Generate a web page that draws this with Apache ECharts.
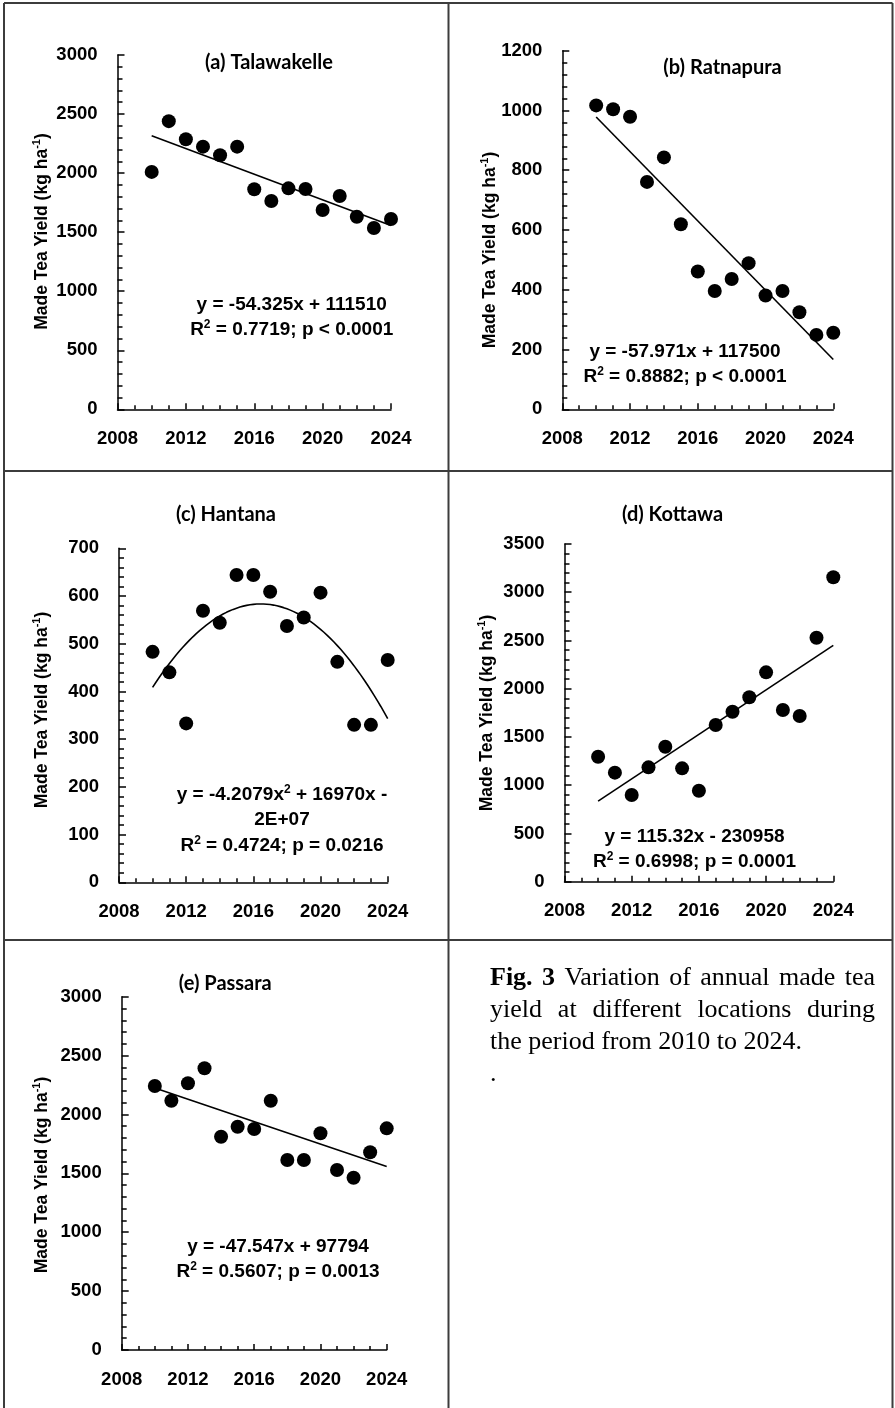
<!DOCTYPE html>
<html>
<head>
<meta charset="utf-8">
<script src="https://cdn.jsdelivr.net/npm/echarts@6/dist/echarts.min.js"></script>
<style>
html,body{margin:0;padding:0;background:#fff;}
#chart{width:895px;height:1408px;}
</style>
</head>
<body>
<div id="chart"></div>
<script>
// ---------------- DATA ----------------
const years = [2010, 2011, 2012, 2013, 2014, 2015, 2016, 2017, 2018, 2019, 2020, 2021, 2022, 2023, 2024];
const talawakelle = [2010, 2440, 2286, 2224, 2151, 2224, 1863, 1764, 1871, 1866, 1688, 1806, 1631, 1535, 1611];
const ratnapura = [1017, 1004, 979, 761, 843, 619, 461, 396, 436, 489, 381, 396, 325, 249, 256];
const hantana = [483, 440, 333, 569, 544, 644, 644, 609, 537, 555, 607, 462, 330, 330, 466];
const kottawa = [1295, 1130, 898, 1185, 1399, 1175, 943, 1624, 1762, 1911, 2170, 1779, 1717, 2529, 3155];
const passara = [2242, 2117, 2265, 2392, 1811, 1896, 1877, 2117, 1613, 1613, 1840, 1528, 1463, 1679, 1882];

const panelTitles = ['(a) Talawakelle', '(b) Ratnapura', '(c) Hantana', '(d) Kottawa', '(e) Passara'];
const xMin = 2008, xMax = 2024, xStep = 4;
const yMax = [3000, 1200, 700, 3500, 3000];
const yStep = [500, 200, 100, 500, 500];

// trend equations as printed (linear: slope, intercept; quadratic: a, b)
const trendLinA = [-54.325, 111510];
const trendLinB = [-57.971, 117500];
const trendQuadC = [-4.2079, 16970];
const trendLinD = [115.32, -230958];
const trendLinE = [-47.547, 97794];

const eqLines = [
  ['y = -54.325x + 111510', 'R{sup|2} = 0.7719; p < 0.0001'],
  ['y = -57.971x + 117500', 'R{sup|2} = 0.8882; p < 0.0001'],
  ['y = -4.2079x{sup|2} + 16970x -', '2E+07', 'R{sup|2} = 0.4724; p = 0.0216'],
  ['y = 115.32x - 230958', 'R{sup|2} = 0.6998; p = 0.0001'],
  ['y = -47.547x + 97794', 'R{sup|2} = 0.5607; p = 0.0013']
];
const yTitle = 'Made Tea Yield (kg ha{sup|-1})';

// ---------------- LAYOUT ----------------
const grids = [
  {left: 117.5, top: 55, width: 273.5, height: 354.3},
  {left: 562.3, top: 50.7, width: 271, height: 358.6},
  {left: 119, top: 548.3, width: 268.7, height: 334},
  {left: 564.5, top: 544, width: 268.8, height: 337.7},
  {left: 121.7, top: 996.7, width: 265, height: 353.3}
];
const titlePos = [[269, 63], [722.5, 68], [226, 515], [672.5, 515], [225.3, 984]];
const eqPos = [
  [291.7, [305, 330]],
  [685, [351.7, 376.7]],
  [282, [795, 820, 846]],
  [694.5, [836.7, 861.7]],
  [278, [1246.7, 1271.7]]
];
const yTitlePos = [[42, 231.5], [490, 250], [42, 710], [487, 713], [42, 1175]];

const seriesData = [talawakelle, ratnapura, hantana, kottawa, passara];

function linTrend(c) {
  return [[2010, c[0] * 2010 + c[1]], [2024, c[0] * 2024 + c[1]]];
}
function quadTrend(c, ys) {
  const n = years.length;
  let mx = 0, mx2 = 0, my = 0;
  for (let i = 0; i < n; i++) { mx += years[i]; mx2 += years[i] * years[i]; my += ys[i]; }
  mx /= n; mx2 /= n; my /= n;
  const k = my - c[0] * mx2 - c[1] * mx;
  const pts = [];
  for (let x = 2010; x <= 2024.0001; x += 0.2) pts.push([x, c[0] * x * x + c[1] * x + k]);
  return pts;
}
const trends = [linTrend(trendLinA), linTrend(trendLinB), quadTrend(trendQuadC, hantana), linTrend(trendLinD), linTrend(trendLinE)];

const SANS = '"Liberation Sans", Arial, sans-serif';
const TITLEF = 'Lato, "Open Sans", sans-serif';
const SERIF = '"Liberation Serif", "Times New Roman", serif';

const gridOpts = [], xAxes = [], yAxes = [], series = [], graphics = [];

for (let i = 0; i < 5; i++) {
  gridOpts.push(Object.assign({containLabel: false}, grids[i]));
  const axisLine = {show: true, onZero: false, lineStyle: {color: '#000', width: 1.5}};
  const lab = {color: '#000', fontWeight: 'bold', fontSize: 18.5, fontFamily: SANS, formatter: v => String(v)};
  xAxes.push({
    gridIndex: i, type: 'value', min: xMin, max: xMax, interval: xStep,
    axisLine: axisLine,
    axisTick: {show: true, inside: true, length: 6, lineStyle: {color: '#000', width: 1.5}},
    minorTick: {show: true, splitNumber: 4, length: 4, lineStyle: {color: '#000', width: 1.5}},
    splitLine: {show: false}, minorSplitLine: {show: false},
    axisLabel: Object.assign({margin: 20}, lab)
  });
  yAxes.push({
    gridIndex: i, type: 'value', min: 0, max: yMax[i], interval: yStep[i],
    axisLine: axisLine,
    axisTick: {show: true, inside: true, length: 7, lineStyle: {color: '#000', width: 1.5}},
    minorTick: {show: true, splitNumber: 5, length: 5, lineStyle: {color: '#000', width: 1.5}},
    splitLine: {show: false}, minorSplitLine: {show: false},
    axisLabel: Object.assign({margin: 20}, lab)
  });
  series.push({
    type: 'line', xAxisIndex: i, yAxisIndex: i, data: trends[i], showSymbol: false, symbol: 'none',
    lineStyle: {color: '#000', width: 1.6}, z: 2, silent: true
  });
  series.push({
    type: 'scatter', xAxisIndex: i, yAxisIndex: i,
    data: years.map((y, j) => [y, seriesData[i][j]]),
    symbol: 'circle', symbolSize: 14, itemStyle: {color: '#000', opacity: 1}, z: 3
  });

  // panel title
  graphics.push({
    type: 'text', x: titlePos[i][0], y: titlePos[i][1],
    style: {text: panelTitles[i], font: 'bold 20px ' + TITLEF, fill: '#000', align: 'center', verticalAlign: 'middle'}
  });
  // equation lines
  eqLines[i].forEach((t, k) => {
    graphics.push({
      type: 'text', x: eqPos[i][0], y: eqPos[i][1][k],
      style: {
        text: t, font: 'bold 19px ' + SANS, fill: '#000', align: 'center', verticalAlign: 'middle',
        lineHeight: 23,
        rich: {sup: {fontSize: 12, fontWeight: 'bold', fontFamily: SANS, verticalAlign: 'top', lineHeight: 12}}
      }
    });
  });
  // y-axis title
  graphics.push({
    type: 'text', x: yTitlePos[i][0], y: yTitlePos[i][1], rotation: Math.PI / 2,
    style: {
      text: yTitle, font: 'bold 17.5px ' + SANS, fill: '#000', align: 'center', verticalAlign: 'middle',
      lineHeight: 22,
      rich: {sup: {fontSize: 11, fontWeight: 'bold', fontFamily: SANS, verticalAlign: 'top', lineHeight: 11}}
    }
  });
}

// table borders
const BC = '#3c3c3c';
const borderLines = [
  [4, 3, 892.5, 3], [4, 3, 4, 1408], [892.5, 3, 892.5, 1408], [448.5, 3, 448.5, 1408],
  [4, 471, 892.5, 471], [4, 940, 892.5, 940]
];
borderLines.forEach(l => graphics.push({
  type: 'line', shape: {x1: l[0], y1: l[1], x2: l[2], y2: l[3]},
  style: {stroke: BC, lineWidth: 2}, silent: true
}));

// caption (justified)
const mctx = document.createElement('canvas').getContext('2d');
function mw(text, font) { mctx.font = font; return mctx.measureText(text).width; }
const CAPF = '26px ' + SERIF, CAPB = 'bold 26px ' + SERIF;
function justify(words, x0, x1, yc) {
  let sum = 0;
  words.forEach(w => { w.w = mw(w.t, w.b ? CAPB : CAPF); sum += w.w; });
  const gap = (x1 - x0 - sum) / (words.length - 1);
  let x = x0;
  words.forEach(w => {
    graphics.push({type: 'text', x: x, y: yc,
      style: {text: w.t, font: w.b ? CAPB : CAPF, fill: '#000', align: 'left', verticalAlign: 'middle'}});
    x += w.w + gap;
  });
}
justify([{t: 'Fig.', b: true}, {t: '3', b: true}, {t: 'Variation'}, {t: 'of'}, {t: 'annual'}, {t: 'made'}, {t: 'tea'}], 490, 875, 978);
justify([{t: 'yield'}, {t: 'at'}, {t: 'different'}, {t: 'locations'}, {t: 'during'}], 490, 875, 1010);
graphics.push({type: 'text', x: 490, y: 1042, style: {text: 'the period from 2010 to 2024.', font: CAPF, fill: '#000', align: 'left', verticalAlign: 'middle'}});
graphics.push({type: 'text', x: 490, y: 1074, style: {text: '.', font: CAPF, fill: '#000', align: 'left', verticalAlign: 'middle'}});

const chart = echarts.init(document.getElementById('chart'), null, {renderer: 'canvas'});
chart.setOption({
  animation: false,
  backgroundColor: '#fff',
  grid: gridOpts,
  xAxis: xAxes,
  yAxis: yAxes,
  series: series,
  graphic: graphics
});
</script>
</body>
</html>
